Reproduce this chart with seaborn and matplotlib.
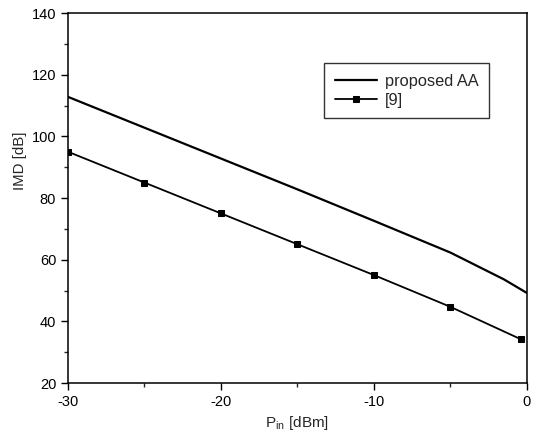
import matplotlib
matplotlib.use("Agg")
import matplotlib.pyplot as plt
import seaborn as sns
import pandas as pd
from matplotlib.ticker import MultipleLocator

sns.set_style("ticks")
plt.rcParams['font.family'] = ['Liberation Sans', 'DejaVu Sans']
plt.rcParams['axes.unicode_minus'] = False

pin_proposed = [-30, -25, -20, -15, -10, -5, -1.5, 0]
imd_proposed = [112.8, 102.8, 92.8, 82.8, 72.6, 62.3, 53.6, 49.2]
pin_ref9 = [-30, -25, -20, -15, -10, -5, -0.4]
imd_ref9 = [95, 85, 75, 65, 55, 44.7, 34.2]
label_proposed = "proposed AA"
label_ref9 = "[9]"

df1 = pd.DataFrame({"x": pin_proposed, "y": imd_proposed})
df2 = pd.DataFrame({"x": pin_ref9, "y": imd_ref9})

fig = plt.figure(figsize=(5.41, 4.41), dpi=100)
ax = fig.add_axes([0.1257, 0.1315, 0.8483, 0.839])

sns.lineplot(data=df1, x="x", y="y", ax=ax, color="black", linewidth=1.6, label=label_proposed)
sns.lineplot(data=df2, x="x", y="y", ax=ax, color="black", linewidth=1.3, marker="s",
             markersize=5, markeredgecolor="black", label=label_ref9)

ax.set_xlim(-30, 0)
ax.set_ylim(20, 140)
ax.xaxis.set_major_locator(MultipleLocator(10))
ax.xaxis.set_minor_locator(MultipleLocator(5))
ax.yaxis.set_major_locator(MultipleLocator(20))
ax.yaxis.set_minor_locator(MultipleLocator(10))
ax.tick_params(axis="both", which="major", direction="out", length=5, width=1, labelsize=10.5, colors="black")
ax.tick_params(axis="both", which="minor", direction="out", length=3, width=1)
for s in ax.spines.values():
    s.set_linewidth(1.1)
    s.set_color("black")

ax.set_xlabel(r"P$_{\mathregular{in}}$ [dBm]", fontsize=11)
ax.set_ylabel("IMD [dB]", fontsize=10.8)
ax.yaxis.set_label_coords(-0.09, 0.6)

leg = ax.legend(loc="upper left", bbox_to_anchor=(0.558, 0.865), borderaxespad=0, frameon=True,
                fancybox=False, edgecolor="black", fontsize=11.8, handlelength=2.6, borderpad=0.65,
                labelspacing=0.25, handletextpad=0.45)
leg.get_frame().set_linewidth(1.0)

fig.savefig("out.png", dpi=100)
